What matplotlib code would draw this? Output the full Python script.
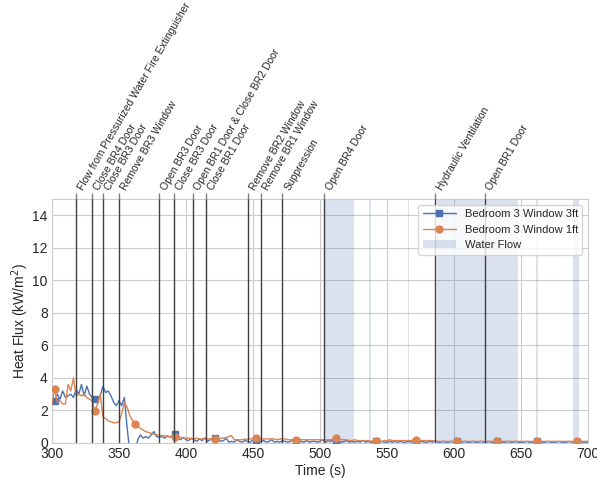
import numpy as np
import matplotlib
matplotlib.use("Agg")
import matplotlib.pyplot as plt
import seaborn as sns

sns.set_style("whitegrid")
plt.rcParams['font.family'] = ['Liberation Sans', 'DejaVu Sans']

# Sampling grid (s)
time = np.arange(300, 702, 2)

# Heat flux at the Bedroom 3 window, 3 ft elevation (kW/m^2)
br3_window_3ft = [
    2.7, 2.6, 3.0, 2.7, 3.2, 2.8, 2.9, 3.0, 2.8, 3.3,
    3.0, 3.6, 2.9, 3.5, 3.0, 2.8, 2.7, 2.6, 2.9, 3.5,
    3.1, 3.2, 2.9, 2.5, 2.3, 2.6, 2.3, 2.8, 1.0, -0.5,
    -0.8, -0.6, 0.2, 0.5, 0.3, 0.4, 0.3, 0.5, 0.7, 0.4,
    0.35, 0.4, 0.3, 0.45, 0.35, 0.45, 0.55, 0.3, 0.2, 0.35,
    0.2, 0.15, 0.3, 0.2, 0.1, 0.25, 0.15, 0.3, 0.1, 0.2,
    0.3, 0.3, 0.25, 0.1, 0.15, 0.3, 0.05, 0.1, 0.05, 0.2,
    0.1, 0.05, 0.15, 0.1, 0.05, 0.2, 0.1, 0.05, 0.1, 0.15,
    0.05, 0.1, 0.2, 0.05, 0.1, 0.05, 0.15, 0.1, 0.05, 0.1,
    0.2, 0.1, 0.05, 0.1, 0.05, 0.15, 0.05, 0.1, 0.1, 0.05,
    0.1, 0.2, 0.05, 0.15, 0.1, 0.2, 0.05, 0.1, 0.05, 0.1,
    0.15, 0.05, 0.1, 0.05, 0.1, 0.05, 0.15, 0.05, 0.1, 0.05,
    0.05, 0.1, 0.05, 0.1, 0.05, 0.05, 0.1, 0.05, 0.1, 0.05,
    0.1, 0.05, 0.05, 0.1, 0.05, 0.1, 0.05, 0.05, 0.1, 0.05,
    0.05, 0.1, 0.05, 0.15, 0.05, 0.05, 0.1, 0.05, 0.05, 0.1,
    0.05, 0.1, 0.05, 0.05, 0.1, 0.05, 0.05, 0.1, 0.05, 0.05,
    0.1, 0.05, 0.05, 0.1, 0.05, 0.05, 0.1, 0.05, 0.05, 0.05,
    0.1, 0.05, 0.05, 0.1, 0.05, 0.05, 0.05, 0.1, 0.05, 0.05,
    0.05, 0.1, 0.05, 0.05, 0.05, 0.1, 0.05, 0.05, 0.05, 0.1,
    0.05, 0.05, 0.05, 0.1, 0.05, 0.05, 0.05, 0.1, 0.05, 0.05,
    0.05,
]

# Heat flux at the Bedroom 3 window, 1 ft elevation (kW/m^2)
br3_window_1ft = [
    2.4, 3.3, 2.5, 2.6, 2.4, 2.4, 3.6, 3.2, 4.0, 2.9,
    3.0, 2.9, 3.0, 2.8, 2.7, 2.6, 1.95, 2.4, 3.0, 1.6,
    1.5, 1.35, 1.3, 1.25, 1.25, 1.3, 1.8, 2.5, 2.2, 1.7,
    1.4, 1.15, 1.0, 0.9, 0.8, 0.7, 0.65, 0.6, 0.55, 0.5,
    0.5, 0.45, 0.45, 0.4, 0.4, 0.4, 0.35, 0.35, 0.35, 0.3,
    0.3, 0.3, 0.25, 0.25, 0.3, 0.25, 0.25, 0.3, 0.25, 0.25,
    0.25, 0.25, 0.25, 0.3, 0.3, 0.35, 0.4, 0.45, 0.2, 0.2,
    0.2, 0.2, 0.25, 0.2, 0.25, 0.3, 0.3, 0.3, 0.25, 0.25,
    0.25, 0.25, 0.25, 0.25, 0.2, 0.25, 0.25, 0.25, 0.2, 0.2,
    0.2, 0.2, 0.2, 0.2, 0.2, 0.2, 0.2, 0.2, 0.2, 0.2,
    0.2, 0.2, 0.2, 0.2, 0.2, 0.25, 0.3, 0.25, 0.2, 0.2,
    0.2, 0.15, 0.15, 0.2, 0.15, 0.15, 0.1, 0.15, 0.15, 0.1,
    0.15, 0.15, 0.15, 0.1, 0.15, 0.15, 0.2, 0.15, 0.15, 0.15,
    0.15, 0.15, 0.15, 0.15, 0.15, 0.2, 0.2, 0.15, 0.15, 0.15,
    0.15, 0.15, 0.15, 0.1, 0.1, 0.1, 0.1, 0.1, 0.1, 0.1,
    0.1, 0.15, 0.15, 0.1, 0.1, 0.1, 0.1, 0.1, 0.1, 0.1,
    0.1, 0.1, 0.1, 0.1, 0.1, 0.1, 0.15, 0.15, 0.1, 0.1,
    0.1, 0.1, 0.1, 0.1, 0.1, 0.1, 0.1, 0.1, 0.1, 0.1,
    0.1, 0.12, 0.1, 0.1, 0.1, 0.1, 0.1, 0.1, 0.1, 0.1,
    0.1, 0.1, 0.1, 0.1, 0.1, 0.1, 0.12, 0.12, 0.1, 0.1,
    0.1,
]

# Tactical events (s) and their descriptions
event_times = [318, 330, 338, 350, 380, 391, 405, 415, 446, 456, 472, 503, 586, 623]
event_labels = [
    "Flow from Pressurized Water Fire Extinguisher",
    "Close BR4 Door",
    "Close BR3 Door",
    "Remove BR3 Window",
    "Open BR3 Door",
    "Close BR3 Door",
    "Open BR1 Door & Close BR2 Door",
    "Close BR1 Door",
    "Remove BR2 Window",
    "Remove BR1 Window",
    "Suppression",
    "Open BR4 Door",
    "Hydraulic Ventilation",
    "Open BR1 Door",
]

# Periods of water flow (start, end) in s
flow_start = [503.5, 536.8, 565.4, 587.0, 661.0, 688.5]
flow_end = [525.5, 537.8, 566.4, 647.5, 662.4, 693.5]

blue = "#4c72b0"
orange = "#dd8452"

fig = plt.figure(figsize=(5.97, 4.78), dpi=100)
ax = fig.add_axes([52 / 597, 1 - 443 / 478, 536 / 597, 244 / 478])

spans = []
for s, e in zip(flow_start, flow_end):
    spans.append(ax.axvspan(s, e, color=blue, alpha=0.2, lw=0, zorder=1))

l3, = ax.plot(time, br3_window_3ft, color=blue, lw=1, marker="s", markersize=4,
              markevery=(1, 15), zorder=3)
l1, = ax.plot(time, br3_window_1ft, color=orange, lw=1, marker="o", markersize=5,
              markevery=(1, 15), zorder=3)

for t in event_times:
    ax.axvline(t, color="0.25", lw=1, zorder=4)

ax.set_xlim(300, 700)
ax.set_ylim(0, 15)
ax.set_xticks(np.arange(300, 701, 50))
ax.set_yticks(np.arange(0, 15, 2))
ax.tick_params(labelsize=10, length=0, pad=3)
ax.set_xlabel("Time (s)", fontsize=10, labelpad=2)
ax.set_ylabel("Heat Flux (kW/m$^2$)", fontsize=10, labelpad=1)
for sp in ax.spines.values():
    sp.set_color("0.8")

ax.legend([l3, l1, spans[0]],
          ["Bedroom 3 Window 3ft", "Bedroom 3 Window 1ft", "Water Flow"],
          loc="upper right", fontsize=8, handlelength=3, frameon=True,
          framealpha=0.8, edgecolor="0.8")

ax2 = ax.twiny()
ax2.set_xlim(ax.get_xlim())
ax2.set_xticks(event_times)
ax2.set_xticklabels(event_labels, rotation=60, ha="left", fontsize=7.5)
ax2.tick_params(axis="x", length=4, width=1, color="0.5", pad=1)
ax2.grid(False)
for sp in ax2.spines.values():
    sp.set_visible(False)

fig.savefig("out.png", dpi=100)
